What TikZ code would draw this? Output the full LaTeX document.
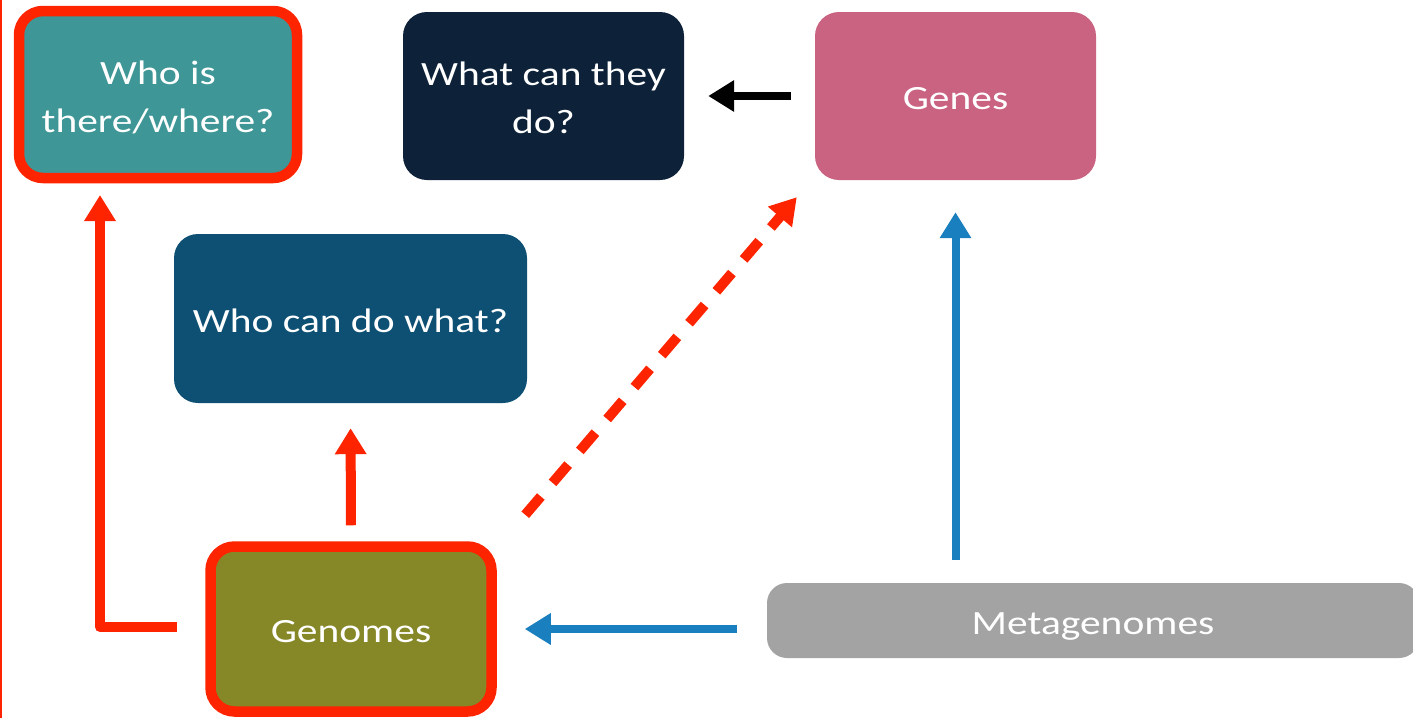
\documentclass[tikz,border=0pt]{standalone}
\usepackage{fontspec}
\setmainfont{Carlito}[FakeStretch=1.22]
\usetikzlibrary{arrows.meta,calc}
\definecolor{cteal}{HTML}{3F9696}
\definecolor{cnavy}{HTML}{0D2239}
\definecolor{cpink}{HTML}{CA6282}
\definecolor{cdblue}{HTML}{0E5073}
\definecolor{colive}{HTML}{868828}
\definecolor{cgray}{HTML}{A3A3A3}
\definecolor{cred}{HTML}{FF2400}
\definecolor{cblue}{HTML}{1A7FBF}
\newcommand\lowtxt[1]{\raisebox{-4pt}[\height][\depth]{\begin{tabular}{@{}c@{}}#1\end{tabular}}}
\tikzset{
  box/.style={rounded corners=24pt, inner sep=0pt, text=white,
    font=\fontsize{34}{48}\selectfont},
  redborder/.style={draw=cred, line width=10.5pt},
  redarrow/.style={draw=cred, line width=10pt, -{Triangle[length=26pt,width=30pt]}},
  bluearrow/.style={draw=cblue, line width=8pt, -{Triangle[length=26pt,width=30pt]}},
  blackarrow/.style={draw=black, line width=8pt, -{Triangle[length=26pt,width=30pt]}},
}
\begin{document}
\begin{tikzpicture}[x=1pt,y=-1pt]
\useasboundingbox (0,0) rectangle (1413,718);
\fill[cred] (0,0) rectangle (2,718);
\node[box, redborder, fill=cteal, minimum width=278pt, minimum height=167pt] (who) at (158,94.5) {\lowtxt{Who is\\there/where?}};
\node[box, fill=cnavy, minimum width=281pt, minimum height=168pt] (what) at (543.5,96) {\lowtxt{What can they\\do?}};
\node[box, fill=cpink, minimum width=281pt, minimum height=168pt] (genes) at (955.5,96) {\lowtxt{Genes}};
\node[box, fill=cdblue, minimum width=353pt, minimum height=169pt] (whocan) at (350.5,318.5) {\lowtxt{Who can do what?}};
\node[box, redborder, fill=colive, minimum width=281pt, minimum height=165pt] (gen) at (351,629) {\lowtxt{Genomes}};
\node[box, fill=cgray, minimum width=652pt, minimum height=75pt, rounded corners=20pt] (meta) at (1093,620.5) {\lowtxt{Metagenomes}};
\coordinate (lstart) at (177,627);
\coordinate (ltip) at (100,195);
\draw[redarrow, line join=round] (lstart) -| (ltip);
\draw[redarrow, shorten <=16pt, shorten >=25pt] (gen.north) -- (whocan.south);
\draw[redarrow, dash pattern=on 24pt off 18pt] ([shift={(28.5pt,26.5pt)}]gen.north east) -- ([shift={(-18pt,-17pt)}]genes.south west);
\draw[blackarrow, shorten <=24pt, shorten >=24pt] (genes.west) -- (what.east);
\draw[bluearrow, shorten <=23pt, shorten >=32pt] (genes.south |- meta.north) -- (genes.south);
\draw[bluearrow, shorten <=30pt, shorten >=28pt] (meta.west |- gen.east) -- (gen.east);
\end{tikzpicture}
\end{document}
